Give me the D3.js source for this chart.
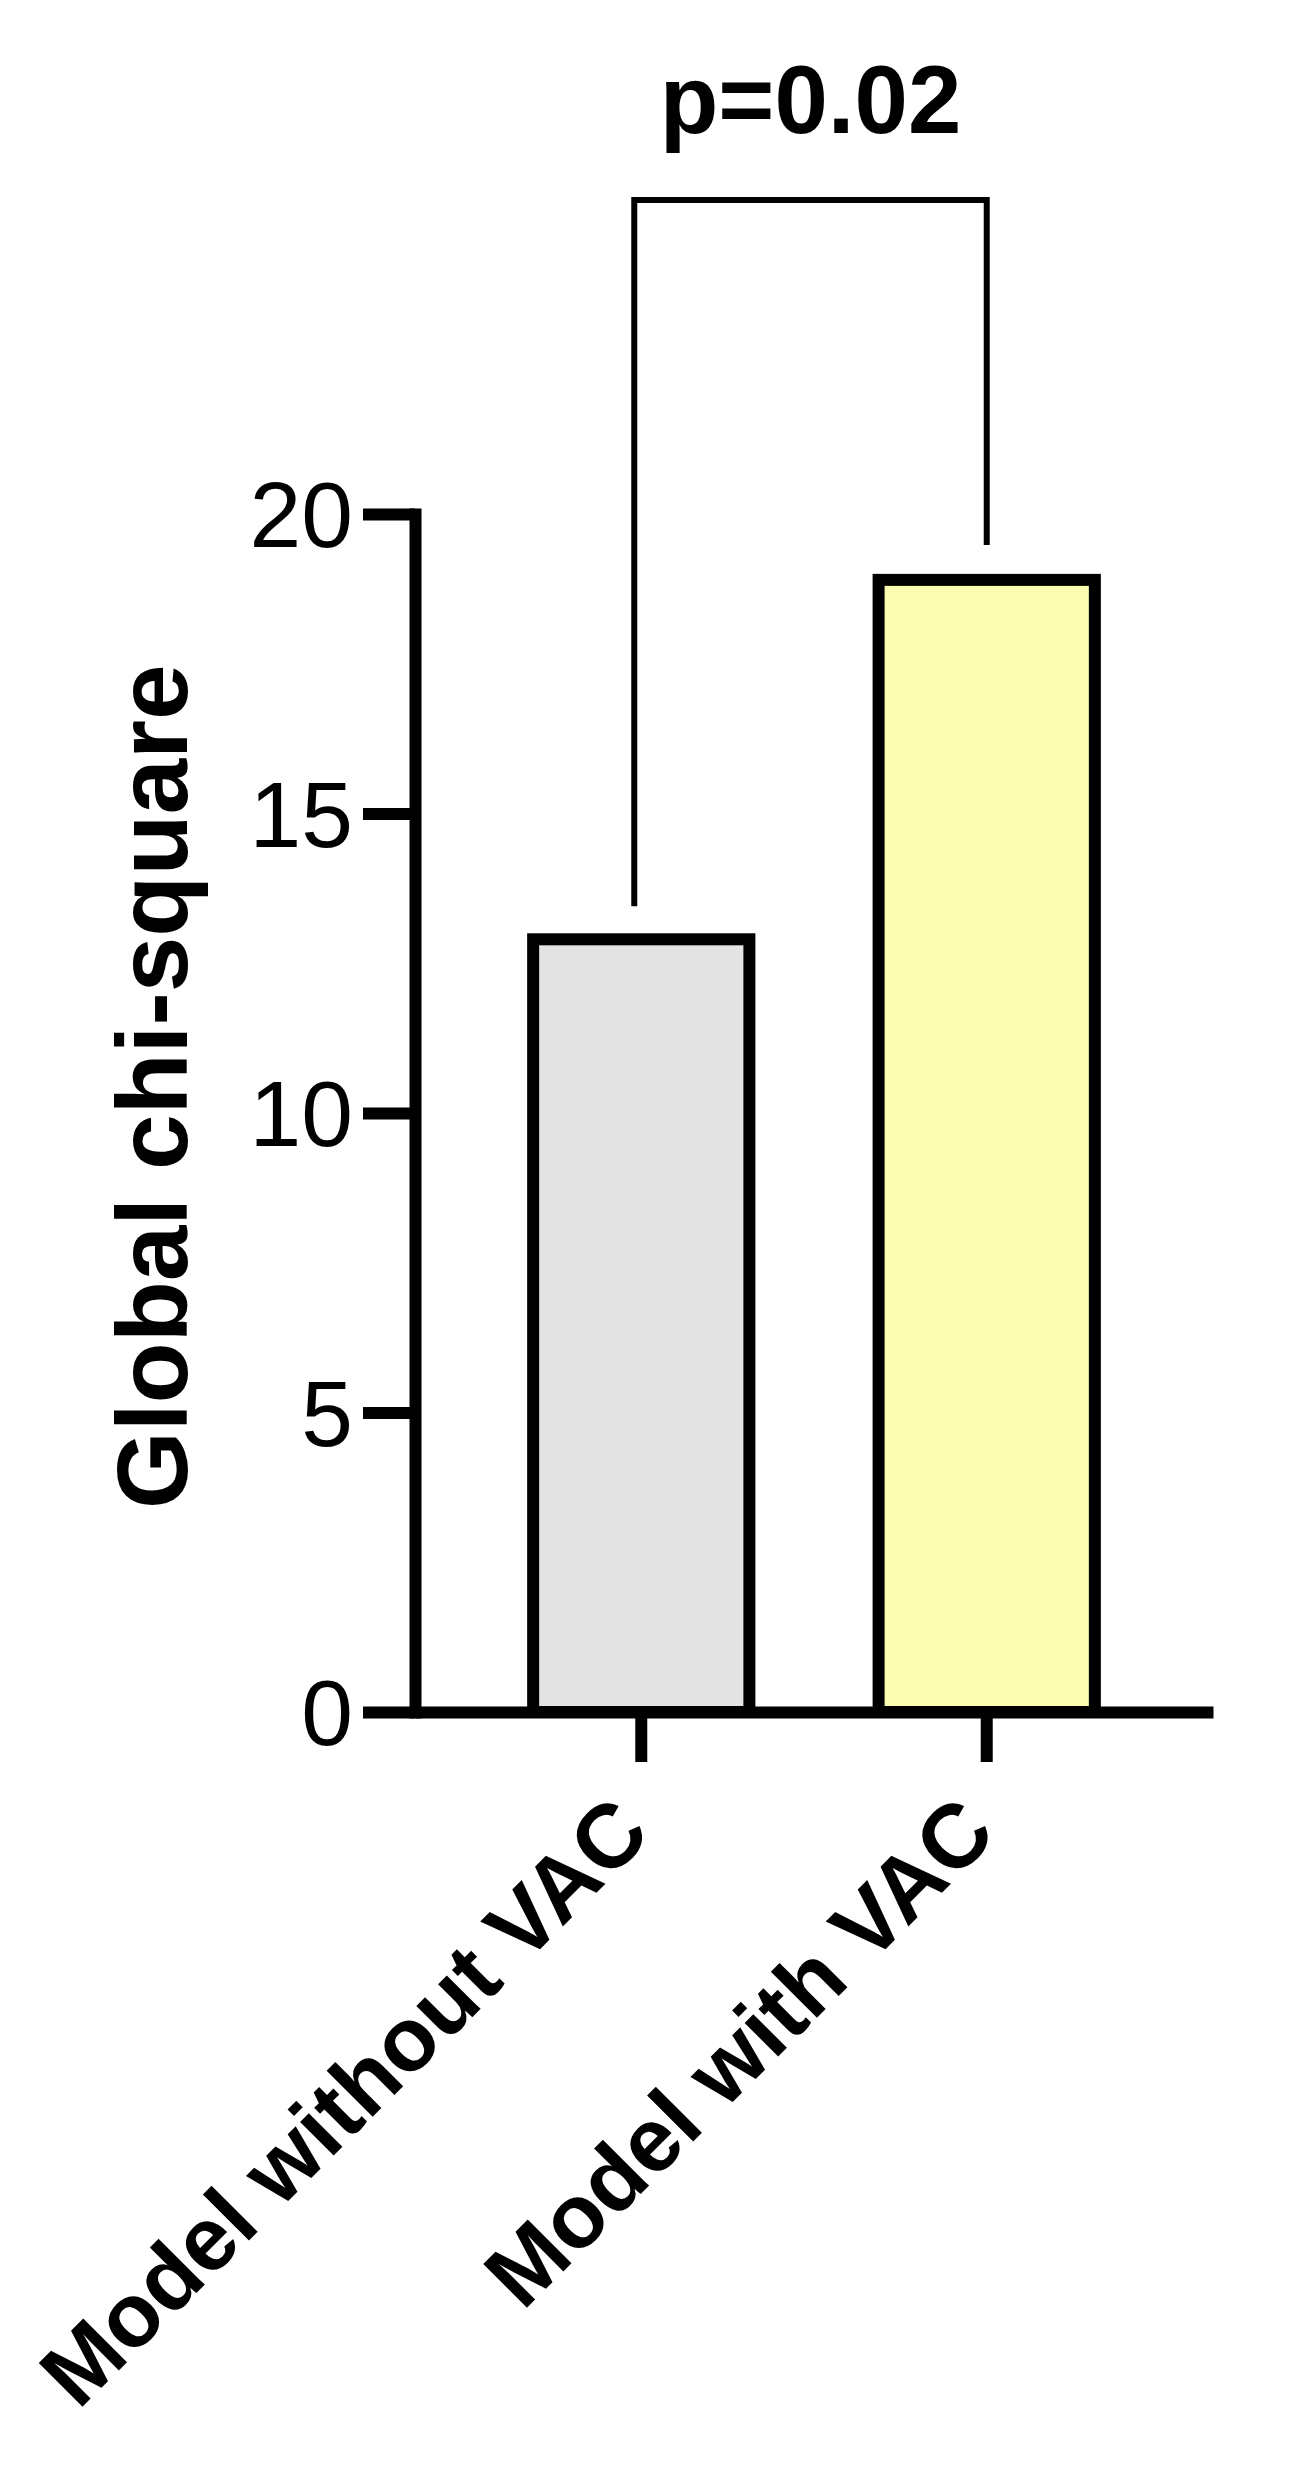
<!DOCTYPE html>
<meta charset="UTF-8">
<title>Global chi-square</title>
<style>
  body { margin: 0; background: #fff; }
  svg { display: block; font-family: "Liberation Sans", Arial, sans-serif; }
</style>
<svg width="1310" height="2484"></svg>
<script src="https://d3js.org/d3.v7.min.js"></script>
<script>
var categories = ["Model without VAC", "Model with VAC"];
var values = [12.9, 18.9];
var yTicks = [0, 5, 10, 15, 20];
var yTitle = "Global chi-square";
var pLabel = "p=0.02";

var svg = d3.select("svg");

var x = d3.scaleBand()
    .domain(categories)
    .range([415, 1213])
    .paddingInner(0.374)
    .paddingOuter(0.342);

var y = d3.scaleLinear()
    .domain([0, 20])
    .range([1712, 514]);

var color = d3.scaleOrdinal()
    .domain(categories)
    .range(["#e3e3e3", "#fdfdb2"]);

// bars
svg.append("g")
  .selectAll("rect")
  .data(values)
  .enter().append("rect")
    .attr("x", function(d, i) { return x(categories[i]); })
    .attr("y", function(d) { return y(d); })
    .attr("width", x.bandwidth())
    .attr("height", function(d) { return y(0) - y(d); })
    .attr("fill", function(d, i) { return color(categories[i]); })
    .attr("stroke", "#000")
    .attr("stroke-width", 12);

// y axis
var gy = svg.append("g")
    .attr("transform", "translate(415,0)")
    .call(d3.axisLeft(y).tickValues(yTicks).tickSize(52).tickSizeOuter(0).tickPadding(10));
gy.select(".domain").attr("stroke-width", 12).attr("stroke-linecap", "square");
gy.selectAll(".tick line").attr("stroke-width", 12);
gy.selectAll(".tick text")
    .attr("font-size", 93)
    .attr("font-family", "Liberation Sans, Arial, sans-serif")
    .attr("dy", "0.35em")
    .attr("fill", "#000");

// x axis
var gx = svg.append("g")
    .attr("transform", "translate(0," + y(0) + ")")
    .call(d3.axisBottom(x).tickSize(50).tickSizeOuter(0));
gx.select(".domain").attr("stroke-width", 12);
gx.selectAll(".tick line").attr("stroke-width", 12);
gx.selectAll(".tick text")
    .attr("x", 0)
    .attr("y", 0)
    .attr("dy", 0)
    .attr("transform", "translate(12,124) rotate(-45)")
    .attr("text-anchor", "end")
    .attr("font-size", 90)
    .attr("font-weight", "bold")
    .attr("font-family", "Liberation Sans, Arial, sans-serif")
    .attr("fill", "#000");

// y title
svg.append("text")
    .attr("transform", "translate(187,1509) rotate(-90)")
    .attr("text-anchor", "start")
    .attr("font-size", 100)
    .attr("font-weight", "bold")
    .text(yTitle);

// significance bracket
var xa = x(categories[0]) + x.bandwidth() / 2 - 7,
    xb = x(categories[1]) + x.bandwidth() / 2,
    bracketTop = 200;
svg.append("path")
    .attr("d", "M" + xa + "," + (y(values[0]) - 33) + "V" + bracketTop + "H" + xb + "V" + (y(values[1]) - 35))
    .attr("fill", "none")
    .attr("stroke", "#000")
    .attr("stroke-width", 6);

svg.append("text")
    .attr("x", (xa + xb) / 2)
    .attr("y", 133)
    .attr("text-anchor", "middle")
    .attr("font-size", 96)
    .attr("font-weight", "bold")
    .text(pLabel);
</script>
